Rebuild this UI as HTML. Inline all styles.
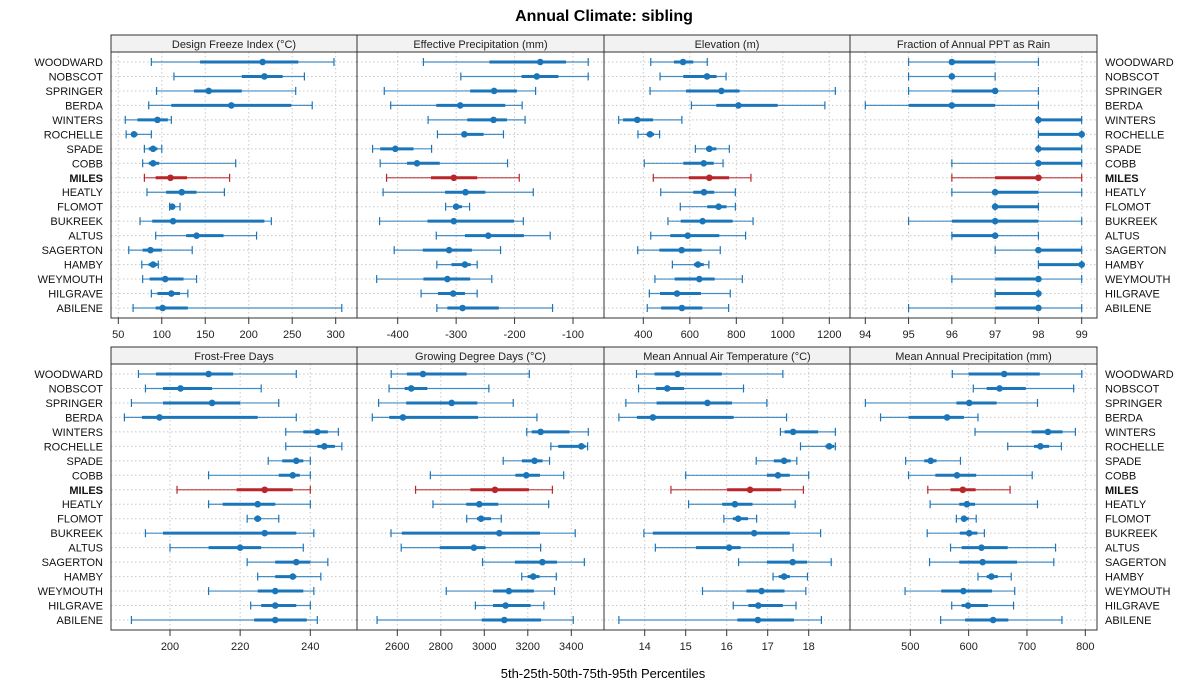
<!DOCTYPE html>
<html><head><meta charset="utf-8">
<style>
html,body{margin:0;padding:0;background:#fff;}
svg{display:block;font-family:"Liberation Sans",Arial,sans-serif;}
</style></head>
<body>
<svg id="chart" width="1200" height="700" viewBox="0 0 1200 700" xmlns="http://www.w3.org/2000/svg">
<text x="604" y="21" text-anchor="middle" font-size="16" font-weight="bold">Annual Climate: sibling</text>
<text x="603" y="678" text-anchor="middle" font-size="13">5th-25th-50th-75th-95th Percentiles</text>
</svg>
<script>
const sites = ["WOODWARD","NOBSCOT","SPRINGER","BERDA","WINTERS","ROCHELLE","SPADE","COBB","MILES","HEATLY","FLOMOT","BUKREEK","ALTUS","SAGERTON","HAMBY","WEYMOUTH","HILGRAVE","ABILENE"];
const titles = ["Design Freeze Index (°C)","Effective Precipitation (mm)","Elevation (m)","Fraction of Annual PPT as Rain","Frost-Free Days","Growing Degree Days (°C)","Mean Annual Air Temperature (°C)","Mean Annual Precipitation (mm)"];
const ticksFreeze = [50,100,150,200,250,300];
const ticksPpt = [-400,-300,-200,-100];
const ticksElev = [400,600,800,1000,1200];
const ticksRain = [94,95,96,97,98,99];
const ticksFrost = [200,220,240];
const ticksGdd = [2600,2800,3000,3200,3400];
const ticksMaat = [14,15,16,17,18];
const ticksMap = [500,600,700,800];
// each row: [p5,p25,p50,p75,p95]
const freezeIndex = [[88,144,216,257,298],[114,192,218,239,264],[94,137,154,192,254],[85,111,180,249,273],[58,72,95,107,111],[59,65,68,72,88],[80,85,90,95,100],[78,85,90,97,185],[80,93,110,129,178],[83,105,123,140,172],[109,109,112,114,121],[75,89,113,218,226],[93,128,140,171,209],[62,78,87,100,135],[77,85,90,95,96],[78,86,104,125,140],[88,95,111,121,130],[67,93,101,130,307]];
const effPpt = [[-356,-243,-156,-112,-74],[-292,-188,-162,-125,-74],[-423,-276,-235,-196,-164],[-412,-334,-293,-216,-187],[-348,-281,-236,-213,-182],[-332,-290,-286,-253,-219],[-443,-430,-404,-373,-342],[-430,-384,-367,-328,-212],[-419,-343,-304,-264,-192],[-425,-319,-284,-250,-168],[-318,-305,-300,-290,-277],[-431,-349,-304,-201,-185],[-334,-285,-245,-184,-139],[-406,-357,-312,-273,-224],[-333,-308,-285,-275,-264],[-436,-356,-315,-276,-239],[-360,-331,-305,-285,-264],[-333,-315,-289,-227,-135]];
const elevation = [[432,532,571,615,675],[472,572,674,715,756],[429,584,736,814,1226],[607,714,809,978,1181],[294,313,374,442,566],[377,414,429,446,470],[624,670,684,714,770],[404,572,660,703,743],[443,596,684,769,863],[475,615,661,705,796],[559,675,724,758,796],[506,561,655,784,872],[432,516,591,727,840],[376,469,565,651,731],[525,618,635,660,682],[450,535,641,707,826],[426,472,545,648,774],[417,477,566,654,767]];
const fracRain = [[95,96,96,97,98],[95,96,96,96,97],[95,96,97,97,98],[94,95,96,97,98],[98,98,98,99,99],[98,98,99,99,99],[98,98,98,99,99],[96,98,98,99,99],[96,97,98,98,99],[96,97,97,98,99],[97,97,97,98,98],[95,96,97,98,99],[96,96,97,97,98],[97,98,98,99,99],[98,98,99,99,99],[96,97,98,98,99],[97,97,98,98,98],[95,97,98,98,99]];
const frostFree = [[191,196,211,218,236],[193,198,203,212,226],[189,198,212,220,231],[187,192,197,225,236],[233,238,242,245,248],[233,242,244,247,249],[228,232,236,238,240],[211,231,235,237,240],[202,219,227,235,240],[211,215,225,230,240],[222,224,225,226,231],[193,198,227,236,241],[200,211,220,226,238],[222,230,236,240,245],[225,230,235,236,243],[211,225,230,238,241],[223,226,230,236,240],[189,224,230,239,242]];
const gdd = [[2572,2644,2718,2919,3207],[2562,2634,2664,2738,3021],[2514,2641,2850,2968,3133],[2485,2563,2626,2971,3242],[3195,3218,3259,3392,3478],[3306,3340,3446,3466,3475],[3087,3173,3231,3268,3300],[2752,3143,3193,3256,3365],[2684,2936,3049,3205,3313],[2764,2917,2977,3064,3296],[2919,2966,2985,3031,3078],[2571,2621,3069,3256,3418],[2618,2795,2952,3006,3259],[2992,3141,3267,3334,3460],[3172,3199,3225,3254,3331],[2825,3040,3113,3228,3323],[2959,3040,3098,3213,3274],[2507,2988,3092,3261,3409]];
const maat = [[13.80,14.24,14.80,15.88,17.37],[13.85,14.28,14.55,14.96,16.41],[13.54,14.29,15.53,16.13,16.98],[13.37,13.81,14.20,16.17,17.46],[17.31,17.41,17.62,18.23,18.65],[17.80,18.41,18.50,18.62,18.65],[16.72,17.15,17.40,17.56,17.71],[15.00,16.98,17.25,17.54,18.00],[14.64,16.01,16.57,17.33,17.87],[15.07,15.89,16.20,16.63,17.67],[15.93,16.15,16.28,16.52,16.73],[13.98,14.20,16.67,17.54,18.29],[14.26,15.25,16.06,16.34,17.62],[16.29,16.98,17.61,17.96,18.55],[17.13,17.27,17.40,17.54,17.97],[15.41,16.48,16.85,17.41,17.93],[16.16,16.53,16.77,17.37,17.69],[13.37,16.26,16.76,17.64,18.31]];
const meanPpt = [[572,600,661,722,794],[608,631,653,698,780],[423,579,601,648,718],[449,497,563,592,616],[611,708,736,761,783],[667,712,723,738,759],[492,524,535,545,586],[497,543,580,613,709],[530,569,590,612,671],[534,584,597,611,718],[579,587,592,600,613],[529,585,601,615,627],[569,588,622,667,749],[533,584,624,683,746],[616,631,639,650,673],[491,553,591,640,679],[571,588,599,633,677],[552,594,642,668,760]];

const svg = document.getElementById('chart');
const NS = 'http://www.w3.org/2000/svg';
function mk(tag, attrs, parent){const e=document.createElementNS(NS,tag);for(const k in attrs)e.setAttribute(k,attrs[k]);(parent||svg).appendChild(e);return e;}

const panelLefts=[111,357,604,850];
const panelW=[246,247,246,247];
// axis scale anchors: [v0, px0, v1, px1]
const scales=[[50,118.3,300,335.7],[-400,397.7,-100,573],[400,643.3,1200,829.3],[94,865.3,99,1081.7],[200,170,240,310.3],[2600,397.3,3400,571.3],[14,644.7,18,808.7],[500,910.3,800,1085.3]];
const data=[freezeIndex,effPpt,elevation,fracRain,frostFree,gdd,maat,meanPpt];
const ticks=[ticksFreeze,ticksPpt,ticksElev,ticksRain,ticksFrost,ticksGdd,ticksMaat,ticksMap];
const rowsTop=[{strip:35,top:52,bottom:318,first:62,last:308},{strip:347,top:364,bottom:630,first:374,last:620}];
const BLUE='#1b76b9', RED='#b8262a';

for(let p=0;p<8;p++){
  const r=rowsTop[Math.floor(p/4)], c=p%4;
  const L=panelLefts[c], W=panelW[c], R=L+W;
  const s=scales[p];
  const xs=v=>s[1]+(v-s[0])*(s[3]-s[1])/(s[2]-s[0]);
  const ys=i=>r.first+i*(r.last-r.first)/(sites.length-1);
  const g=mk('g',{});
  
  
  const strip=mk('rect',{x:L,y:r.strip,width:W,height:r.top-r.strip,fill:'#f2f2f2',stroke:'#333','stroke-width':1},g);
  
  
  const st=mk('text',{x:L+W/2,y:r.strip+13,'text-anchor':'middle','font-size':11,fill:'#222'},g);
  st.textContent=titles[p];
  
  
  // grid
  for(let i=0;i<sites.length;i++){
    const gl=mk('line',{x1:L,x2:R,y1:ys(i),y2:ys(i),stroke:'#c8c8c8','stroke-dasharray':'1.5,2.5','stroke-width':1},g);
    
    
  }
  ticks[p].forEach(t=>{
    const x=xs(t);
    const vl=mk('line',{x1:x,x2:x,y1:r.top,y2:r.bottom,stroke:'#c8c8c8','stroke-dasharray':'1.5,2.5','stroke-width':1},g);
    
    
    const tk=mk('line',{x1:x,x2:x,y1:r.bottom,y2:r.bottom+6,stroke:'#333','stroke-width':1},g);
    
    
    const tl=mk('text',{x:x,y:r.bottom+20,'text-anchor':'middle','font-size':11,fill:'#222'},g);
    tl.textContent=String(t).replace('-','-');
    
    
  });
  // marks
  data[p].forEach((d,i)=>{
    const y=ys(i), col=sites[i]==='MILES'?RED:BLUE;
    const m=mk('g',{},g);
    
    
    mk('line',{x1:xs(d[0]),x2:xs(d[4]),y1:y,y2:y,stroke:col,'stroke-width':1.2,'stroke-opacity':0.8},m);
    mk('line',{x1:xs(d[0]),x2:xs(d[0]),y1:y-4,y2:y+4,stroke:col,'stroke-width':1.2},m);
    mk('line',{x1:xs(d[4]),x2:xs(d[4]),y1:y-4,y2:y+4,stroke:col,'stroke-width':1.2},m);
    mk('line',{x1:xs(d[1]),x2:xs(d[3]),y1:y,y2:y,stroke:col,'stroke-width':3},m);
    mk('circle',{cx:xs(d[2]),cy:y,r:3.3,fill:col},m);
  });
  const box=mk('rect',{x:L,y:r.top,width:W,height:r.bottom-r.top,fill:'none',stroke:'#333','stroke-width':1},g);
  
  
}
// site labels
[0,1].forEach(k=>{
  const r=rowsTop[k];
  sites.forEach((s,i)=>{
    const y=r.first+i*(r.last-r.first)/(sites.length-1)+4;
    const a=mk('text',{x:103,y:y,'text-anchor':'end','font-size':11,fill:'#111','font-weight':s==='MILES'?'bold':'normal'});
    a.textContent=s;
    
    
    const b=mk('text',{x:1105,y:y,'text-anchor':'start','font-size':11,fill:'#111','font-weight':s==='MILES'?'bold':'normal'});
    b.textContent=s;
    
    
  });
});
</script>
</body></html>
